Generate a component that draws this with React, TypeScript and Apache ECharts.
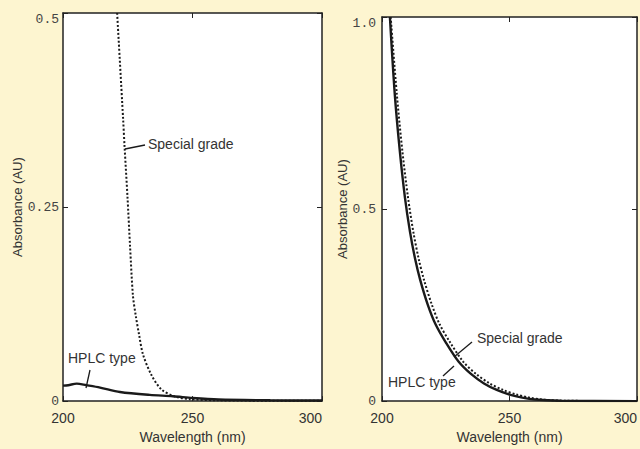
import React, { useEffect, useRef } from "react";
import * as echarts from "echarts";

// ---- Data ----
// Left panel (0–0.5 AU)
const leftSpecialNm = [220.9, 223.2, 223.8, 224.9, 225.9, 227.0, 228.1, 229.4, 230.9, 234.1, 238.0, 243.2, 249.0, 260, 280, 300];
const leftSpecialAu = [0.5, 0.364, 0.326, 0.263, 0.199, 0.136, 0.110, 0.085, 0.060, 0.034, 0.015, 0.006, 0.0025, 0.001, 0.0005, 0.0003];
const leftHplcNm = [200, 202, 205.3, 209, 214.3, 222, 233.5, 242.4, 250, 260, 280, 300];
const leftHplcAu = [0.020, 0.0205, 0.0225, 0.0205, 0.0174, 0.0118, 0.008, 0.0063, 0.004, 0.002, 0.001, 0.0007];

// Right panel (0–1.0 AU)
const rightHplcNm = [203.1, 205, 207, 209, 211, 213, 215, 218, 221, 225, 230, 235, 240, 245, 250, 255, 260, 270, 300];
const rightHplcAu = [1.0, 0.80, 0.65, 0.53, 0.44, 0.37, 0.315, 0.25, 0.20, 0.153, 0.103, 0.07, 0.046, 0.029, 0.017, 0.009, 0.004, 0.001, 0];
const rightSpecialNm = [203.4, 205.8, 208.0, 210.2, 212.3, 214.4, 216.5, 219.6, 222.6, 226.7, 231.8, 237.0, 242.2, 247.5, 252.7, 257.9, 263, 272, 300];
const rightSpecialAu = [1.0, 0.80, 0.65, 0.53, 0.44, 0.37, 0.315, 0.25, 0.20, 0.153, 0.103, 0.07, 0.046, 0.029, 0.017, 0.009, 0.004, 0.001, 0];

const xTickValues = [200, 250, 300];
const leftYTickLabels: Record<string, string> = { "0": "0", "0.25": "0.25", "0.5": "0.5" };
const rightYTickLabels: Record<string, string> = { "0": "0", "0.5": "0.5", "1": "1.0" };

const zip = (xs: number[], ys: number[]) => xs.map((x, i) => [x, ys[i]]);

const BG = "#FDF5D0";
const AXIS = "#222";
const TEXT = "#333";
const SANS = "'Liberation Sans', Arial, Helvetica, sans-serif";
const MONO = "'Liberation Mono', 'DejaVu Sans Mono', monospace";

function xAxes(gridIndex: number) {
  const common = {
    gridIndex,
    type: "value" as const,
    min: xTickValues[0],
    max: xTickValues[xTickValues.length - 1],
    interval: xTickValues[1] - xTickValues[0],
    splitLine: { show: false },
    axisLine: { show: true, onZero: false, lineStyle: { color: AXIS, width: 1.5 } },
    axisTick: { show: true, inside: true, length: 5, lineStyle: { color: AXIS, width: 1 } },
  };
  return [
    {
      ...common,
      position: "bottom",
      name: "Wavelength (nm)",
      nameLocation: "middle",
      nameGap: 27,
      nameTextStyle: { fontSize: 14, color: TEXT, fontFamily: SANS },
      axisLabel: {
        fontSize: 14,
        color: TEXT,
        fontFamily: SANS,
        margin: 10,
        alignMaxLabel: "right",
      },
    },
    { ...common, position: "top", axisLabel: { show: false } },
  ];
}

function yAxes(gridIndex: number, max: number, interval: number, labels: Record<string, string>, nameGap: number, labelMargin: number) {
  const common = {
    gridIndex,
    type: "value" as const,
    min: 0,
    max,
    interval,
    splitLine: { show: false },
    axisLine: { show: true, onZero: false, lineStyle: { color: AXIS, width: 1.5 } },
    axisTick: { show: true, inside: true, length: 5, lineStyle: { color: AXIS, width: 1 } },
  };
  return [
    {
      ...common,
      position: "left",
      name: "Absorbance (AU)",
      nameLocation: "middle",
      nameGap,
      nameTextStyle: { fontSize: 13, color: TEXT, fontFamily: SANS },
      axisLabel: {
        fontSize: 13,
        color: "#444",
        fontFamily: MONO,
        margin: labelMargin,
        formatter: (v: number) => labels[String(v)] ?? String(v),
        verticalAlignMinLabel: "middle",
        verticalAlignMaxLabel: "top",
      },
    },
    { ...common, position: "right", axisLabel: { show: false } },
  ];
}

function lineSeries(name: string, data: number[][], idx: number, dotted: boolean) {
  return {
    name,
    type: "line",
    xAxisIndex: idx,
    yAxisIndex: idx,
    data,
    showSymbol: false,
    smooth: 0.3,
    clip: true,
    lineStyle: { color: "#1a1a1a", width: dotted ? 2 : 2.4, type: dotted ? [2, 2] : "solid" },
  };
}

export default function App() {
  const ref = useRef<HTMLDivElement>(null);

  useEffect(() => {
    document.body.style.margin = "0";
    const chart = echarts.init(ref.current!, undefined, { renderer: "svg" });
    const labelStyle = { fontSize: 14, fill: TEXT, fontFamily: SANS, verticalAlign: "middle" };
    const leader = { stroke: "#1a1a1a", lineWidth: 1.3 };

    chart.setOption({
      animation: false,
      backgroundColor: BG,
      grid: [
        { left: 63, top: 13, width: 259, height: 394, show: true, backgroundColor: "#fff", borderWidth: 0 },
        { left: 382, top: 17, width: 260, height: 392, show: true, backgroundColor: "#fff", borderWidth: 0 },
      ],
      xAxis: [...xAxes(0), ...xAxes(1)],
      yAxis: [
        ...yAxes(0, 0.5, 0.25, leftYTickLabels, 39, 4),
        ...yAxes(1, 1.0, 0.5, rightYTickLabels, 30, 6),
      ],
      series: [
        lineSeries("Special grade", zip(leftSpecialNm, leftSpecialAu), 0, true),
        lineSeries("HPLC type", zip(leftHplcNm, leftHplcAu), 0, false),
        lineSeries("Special grade", zip(rightSpecialNm, rightSpecialAu), 2, true),
        lineSeries("HPLC type", zip(rightHplcNm, rightHplcAu), 2, false),
      ],
      graphic: [
        { type: "text", left: 148, top: 137, style: { ...labelStyle, text: "Special grade" } },
        { type: "line", shape: { x1: 125, y1: 149, x2: 145, y2: 145 }, style: leader },
        { type: "text", left: 68, top: 351, style: { ...labelStyle, text: "HPLC type" } },
        { type: "line", shape: { x1: 90, y1: 370, x2: 86, y2: 388 }, style: leader },
        { type: "text", left: 477, top: 331, style: { ...labelStyle, text: "Special grade" } },
        { type: "line", shape: { x1: 472, y1: 342, x2: 454, y2: 357 }, style: leader },
        { type: "text", left: 388, top: 375, style: { ...labelStyle, text: "HPLC type" } },
        { type: "line", shape: { x1: 454, y1: 366, x2: 443, y2: 376 }, style: leader },
      ],
    });
    return () => chart.dispose();
  }, []);

  return (
    <div
      ref={ref}
      style={{ position: "fixed", left: 0, top: 0, width: 640, height: 449, background: BG }}
    />
  );
}
